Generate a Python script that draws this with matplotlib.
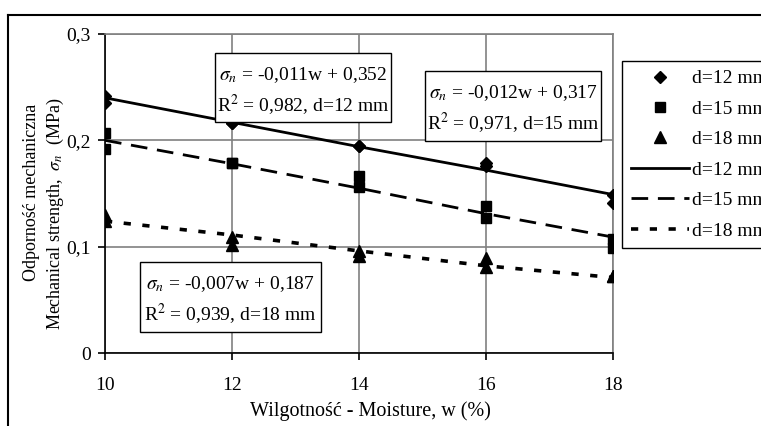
import matplotlib
matplotlib.use("Agg")
import matplotlib.pyplot as plt
from matplotlib.lines import Line2D
from matplotlib.patches import Rectangle

plt.rcParams["font.family"] = ["Liberation Serif", "DejaVu Serif"]
plt.rcParams["mathtext.fontset"] = "stix"

W, H = 761, 426

# measured points (two repetitions per moisture level)
moisture = [10, 12, 14, 16, 18]
d12_pts = [[0.242, 0.235], [0.216, 0.216], [0.195, 0.195], [0.179, 0.176], [0.149, 0.141]]
d15_pts = [[0.207, 0.192], [0.179, 0.179], [0.166, 0.156], [0.138, 0.127], [0.107, 0.099]]
d18_pts = [[0.130, 0.124], [0.109, 0.102], [0.096, 0.091], [0.089, 0.081], [0.072, 0.072]]

# trend lines
d12_line = [0.240, 0.217, 0.194, 0.172, 0.149]
d15_line = [0.200, 0.178, 0.155, 0.131, 0.109]
d18_line = [0.124, 0.111, 0.096, 0.082, 0.071]

labels = ["d=12 mm", "d=15 mm", "d=18 mm"]
equations = [
    (r"$\sigma_n$ = -0,011w + 0,352", r"R$^2$ = 0,982, d=12 mm"),
    (r"$\sigma_n$ = -0,012w + 0,317", r"R$^2$ = 0,971, d=15 mm"),
    (r"$\sigma_n$ = -0,007w + 0,187", r"R$^2$ = 0,939, d=18 mm"),
]

FS = 14


def fx(px):
    return px / W


def fy(py):
    return 1 - py / H


fig = plt.figure(figsize=(W / 100, H / 100), dpi=100)
ax = fig.add_axes([fx(105), fy(353), (613 - 105) / W, (353 - 34) / H])

markers = ["D", "s", "^"]
msizes = [6.5, 7, 8.5]
for pts, m, ms in zip([d12_pts, d15_pts, d18_pts], markers, msizes):
    for k in range(2):
        ax.plot(moisture, [p[k] for p in pts], linestyle="none", marker=m,
                markersize=ms, color="black", zorder=4)

ax.plot(moisture, d12_line, color="black", lw=2.0, zorder=3)
ax.plot(moisture, d15_line, color="black", lw=2.0, dashes=(6, 3.5), zorder=3)
ax.plot(moisture, d18_line, color="black", lw=2.6, dashes=(2.0, 3.2), zorder=3)

ax.set_xlim(10, 18)
ax.set_ylim(0, 0.3)
ax.set_xticks([10, 12, 14, 16, 18])
ax.set_yticks([0, 0.1, 0.2, 0.3])
ax.set_yticklabels(["0", "0,1", "0,2", "0,3"])
ax.grid(True, color="#808080", lw=1.2)
ax.set_axisbelow(True)
for s in ["top", "right"]:
    ax.spines[s].set_color("#808080")
    ax.spines[s].set_linewidth(1.2)
for s in ["left", "bottom"]:
    ax.spines[s].set_color("black")
    ax.spines[s].set_linewidth(1.2)
ax.tick_params(direction="out", length=5, width=1.2, labelsize=FS)
ax.tick_params(axis="x", pad=12)
ax.tick_params(axis="y", pad=5)

fig.text(fx(370), fy(411), "Wilgotność - Moisture, w (%)", ha="center", va="center",
         fontsize=14.5)
fig.text(fx(32), fy(192), "Odporność mechaniczna", rotation=90,
         ha="center", va="center", fontsize=13)
fig.text(fx(55), fy(214), r"Mechanical strength,  $\sigma_n$  (MPa)", rotation=90,
         ha="center", va="center", fontsize=13)

# equation boxes (pixel positions)
boxes = [(215, 53, 391, 122), (425, 71, 601, 141), (140, 262, 321, 332)]
for (x0, y0, x1, y1), (l1, l2) in zip(boxes, equations):
    fig.patches.append(Rectangle((fx(x0), fy(y1)), fx(x1) - fx(x0), fy(y0) - fy(y1),
                                 transform=fig.transFigure, fc="white", ec="black",
                                 lw=1.0, zorder=5))
    cx = fx((x0 + x1) / 2)
    hh = y1 - y0
    fig.text(cx, fy(y0 + hh * 0.32), l1, ha="center", va="center", fontsize=FS, zorder=6)
    fig.text(cx, fy(y0 + hh * 0.74), l2, ha="center", va="center", fontsize=FS, zorder=6)

# legend
handles = [Line2D([], [], ls="none", marker=m, ms=ms, color="black")
           for m, ms in zip(markers, msizes)]
handles += [
    Line2D([], [], color="black", lw=2.0),
    Line2D([], [], color="black", lw=2.0, dashes=(6, 3.5)),
    Line2D([], [], color="black", lw=2.6, dashes=(2.0, 3.2)),
]
leg = fig.legend(handles, labels + labels, loc="upper left",
                 bbox_to_anchor=(fx(622), fy(61)), fontsize=FS, frameon=True,
                 fancybox=False, edgecolor="black", framealpha=1,
                 handlelength=3.0, handletextpad=0.15, labelspacing=0.66,
                 borderpad=0.45, borderaxespad=0)
leg.get_frame().set_linewidth(1.0)

# outer chart border
fig.add_artist(Line2D([fx(8), 1], [fy(15), fy(15)], color="black", lw=1.5,
                      transform=fig.transFigure))
fig.add_artist(Line2D([fx(8), fx(8)], [fy(15), 0], color="black", lw=1.5,
                      transform=fig.transFigure))

fig.savefig("out.png", dpi=100)
